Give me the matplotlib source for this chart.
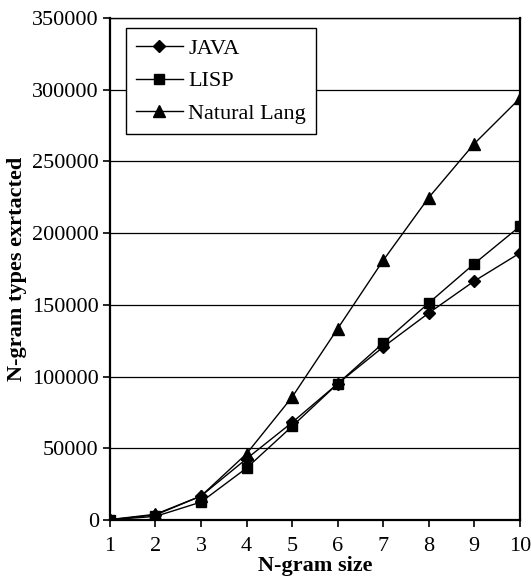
import matplotlib.pyplot as plt

ngram_sizes = [1, 2, 3, 4, 5, 6, 7, 8, 9, 10]
java = [200, 3500, 16700, 42700, 68000, 95000, 120600, 144300, 166600, 186100]
lisp = [200, 2500, 12500, 36200, 65300, 95000, 123400, 151300, 178700, 204700]
natural = [300, 4000, 16700, 46200, 85700, 133400, 181000, 224800, 262400, 294000]

plt.rcParams['font.family'] = 'Liberation Serif'
plt.rcParams['font.size'] = 16

fig = plt.figure(figsize=(5.31, 5.81), dpi=100)
ax = fig.add_axes([0.207, 0.105, 0.772, 0.864])

ax.set_axisbelow(True)
ax.yaxis.grid(True, color='black', linewidth=0.9)

ax.plot(ngram_sizes, java, color='black', linewidth=1, marker='D', markersize=6.5, label='JAVA')
ax.plot(ngram_sizes, lisp, color='black', linewidth=1, marker='s', markersize=7, label='LISP')
ax.plot(ngram_sizes, natural, color='black', linewidth=1, marker='^', markersize=9, label='Natural Lang')

ax.set_xlim(1, 10)
ax.set_ylim(0, 350000)
ax.set_xticks(ngram_sizes)
ax.set_yticks(range(0, 350001, 50000))
ax.tick_params(direction='out', length=5, width=1.2, colors='black', pad=3)
ax.tick_params(axis='x', pad=7)

for side in ['left', 'bottom', 'right']:
    ax.spines[side].set_linewidth(1.6)
ax.spines['top'].set_linewidth(1.0)

ax.set_xlabel('N-gram size', weight='bold', labelpad=0)
ax.set_ylabel('N-gram types exrtacted', weight='bold', labelpad=4)

leg = ax.legend(loc='upper left', bbox_to_anchor=(0.039, 0.98), borderaxespad=0,
                fancybox=False, framealpha=1, edgecolor='black', handlelength=2.1,
                handletextpad=0.25, borderpad=0.45, labelspacing=0.55)
leg.get_frame().set_linewidth(1.0)

fig.savefig('out.png', dpi=100)
